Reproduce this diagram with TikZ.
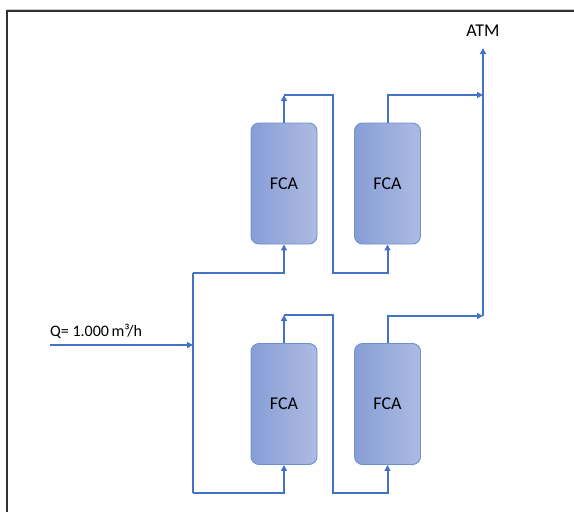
\documentclass[tikz,border=0pt]{standalone}
\usepackage{fontspec}
\setmainfont{Carlito}
\usetikzlibrary{arrows.meta}
\definecolor{pipeblue}{RGB}{68,114,196}
\definecolor{tankleft}{RGB}{135,158,214}
\definecolor{tankright}{RGB}{173,187,226}
\definecolor{tankedge}{RGB}{112,142,210}
\definecolor{framegray}{RGB}{50,50,50}
\tikzset{
  tank/.style={draw=tankedge, line width=0.9pt, left color=tankleft, right color=tankright,
    rounded corners=8pt, minimum width=66pt, minimum height=121pt, inner sep=0pt,
    font=\fontsize{18}{20}\selectfont},
  pipe/.style={draw=pipeblue, line width=2pt},
  flow/.style={pipe, -{Triangle[length=6pt,width=6pt]}},
  lbl/.style={font=\fontsize{16}{18}\selectfont, inner sep=0pt}
}
\begin{document}
\begin{tikzpicture}[x=1pt,y=-1pt]
  \useasboundingbox (0,0) rectangle (574,512);
  % outer frame (left and top edges)
  \draw[gray!40, line width=1pt] (7,9) -- (574,9);
  \draw[framegray, line width=2pt] (7,512) -- (7,10.5) -- (574,10.5);

  % filter units
  \node[tank] (T1) at (284,183.5) {FCA};
  \node[tank] (T2) at (387.5,183.5) {FCA};
  \node[tank] (T3) at (284,404) {FCA};
  \node[tank] (T4) at (387.5,404) {FCA};

  % routing points
  \coordinate (in) at (50,345);
  \coordinate (split) at (193,345);
  \coordinate (mtop) at (193,273);
  \coordinate (mbot) at (193,493);
  \coordinate (u1) at (284,95);
  \coordinate (r1) at (333,95);
  \coordinate (d1) at (333,273);
  \coordinate (u3) at (284,315);
  \coordinate (r3) at (333,315);
  \coordinate (d3) at (333,493);
  \coordinate (j1) at (483,95);
  \coordinate (j2) at (483,316);
  \coordinate (atm) at (483,48);

  % inlet
  \node[lbl, anchor=base west] (q) at (50,336) {Q= 1.000\,m³/h};
  \draw[flow] (in) -- (split);

  % distribution header
  \draw[pipe] (mtop) -- (mbot);
  \draw[flow] (mtop) -| (T1.south);
  \draw[flow] (mbot) -| (T3.south);

  % series connections between units
  \draw[flow] (T1.north) -- (u1);
  \draw[flow] (u1) -- (r1) -- (d1) -| (T2.south);
  \draw[flow] (T3.north) -- (u3);
  \draw[flow] (u3) -- (r3) -- (d3) -| (T4.south);

  % outlets to atmosphere
  \draw[flow] (T2.north) |- (j1);
  \draw[flow] (T4.north) |- (j2);
  \draw[flow] (j2) -- (atm);
  \node[lbl, font=\fontsize{18}{20}\selectfont] (atmlbl) at (483,31) {ATM};
\end{tikzpicture}
\end{document}
